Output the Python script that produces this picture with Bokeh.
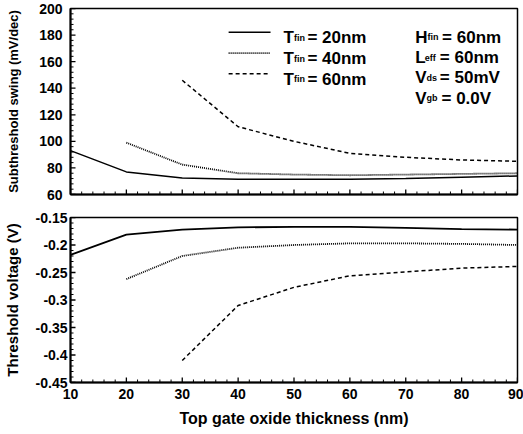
from bokeh.plotting import figure
from bokeh.layouts import column
from bokeh.models import FixedTicker, Range1d
from bokeh.core.properties import value
from bokeh.embed import file_html
from bokeh.resources import INLINE

# ---- data ----
tox = [10, 20, 30, 40, 50, 60, 70, 80, 90]
tox_40 = [20, 30, 40, 50, 60, 70, 80, 90]
tox_60 = [30, 40, 50, 60, 70, 80, 90]

ss_t20 = [93, 77, 72.5, 71.5, 71.5, 71.5, 72, 73, 74]
ss_t40 = [99, 82.5, 76, 75, 74.5, 75, 75.5, 76]
ss_t60 = [146, 111, 100, 91, 88, 86, 85]

vt_t20 = [-0.218, -0.181, -0.172, -0.168, -0.167, -0.167, -0.169, -0.171, -0.172]
vt_t40 = [-0.262, -0.220, -0.205, -0.200, -0.197, -0.197, -0.198, -0.200]
vt_t60 = [-0.410, -0.310, -0.277, -0.256, -0.249, -0.242, -0.239]

x_ticks = [10, 20, 30, 40, 50, 60, 70, 80, 90]
ss_ticks = [60, 80, 100, 120, 140, 160, 180, 200]
vt_ticks = [-0.45, -0.4, -0.35, -0.3, -0.25, -0.2, -0.15]
vt_tick_labels = ["-0.45", "-0.4", "-0.35", "-0.3", "-0.25", "-0.2", "-0.15"]

legend_names = ["20nm", "40nm", "60nm"]
param_main = ["H", "L", "V", "V"]
param_sub = ["fin", "eff", "ds", "gb"]
param_val = ["= 60nm", "= 60nm", "= 50mV", "= 0.0V"]

FONT = value("Liberation Sans")
DASHES = ["solid", "1 1", "4 3"]

FIG_W = 523
BL, BR = 70, 6
FRAME_W = FIG_W - BL - BR


def style(p, ylab, lab_standoff, title_standoff, title_size):
    p.outline_line_color = "black"
    p.outline_line_width = 1.5
    p.grid.visible = False
    p.background_fill_color = "white"
    p.border_fill_color = "white"
    for ax in (p.xaxis[0], p.yaxis[0]):
        ax.axis_line_width = 2
        ax.major_tick_in = 0
        ax.major_tick_out = 0
        ax.minor_tick_in = 0
        ax.minor_tick_out = 0
        ax.major_label_text_font = "Liberation Sans"
        ax.major_label_text_font_style = "bold"
        ax.major_label_text_font_size = "14px"
        ax.major_label_text_color = "black"
        ax.axis_label_text_font = "Liberation Sans"
        ax.axis_label_text_font_style = "bold"
        ax.axis_label_text_color = "black"
    p.xaxis.ticker = FixedTicker(ticks=x_ticks)
    p.yaxis.axis_label = ylab
    p.yaxis.axis_label_text_font_size = title_size
    p.yaxis.major_label_standoff = lab_standoff
    p.yaxis.axis_label_standoff = title_standoff


def inward_ticks(p, yticks, ymin, ymax, frame_h, yminor_step):
    # tick marks drawn inside the frame, lengths converted from pixels
    xpx = 80.0 / FRAME_W
    ypx = (ymax - ymin) / frame_h
    xmaj = list(x_ticks)
    xmin_ = [v for v in range(10, 91, 2) if v not in xmaj]
    p.segment(x0=xmaj, y0=[ymin] * len(xmaj), x1=xmaj, y1=[ymin + 5 * ypx] * len(xmaj),
              line_color="black", line_width=1.3)
    p.segment(x0=xmin_, y0=[ymin] * len(xmin_), x1=xmin_, y1=[ymin + 3 * ypx] * len(xmin_),
              line_color="black", line_width=1)
    n = int(round((ymax - ymin) / yminor_step))
    ymin_list = [ymin + k * yminor_step for k in range(n + 1)]
    ymin_list = [v for v in ymin_list if all(abs(v - t) > 1e-9 for t in yticks)]
    p.segment(x0=[10] * len(yticks), y0=yticks, x1=[10 + 5 * xpx] * len(yticks), y1=yticks,
              line_color="black", line_width=1.3)
    p.segment(x0=[10] * len(ymin_list), y0=ymin_list, x1=[10 + 3 * xpx] * len(ymin_list),
              y1=ymin_list, line_color="black", line_width=1)


# ---- top panel ----
TOP_FH = 186
top = figure(width=FIG_W, height=8 + TOP_FH + 11, output_backend="svg", toolbar_location=None,
             x_range=Range1d(10, 90), y_range=Range1d(60, 200),
             min_border_left=BL, min_border_right=BR, min_border_top=8, min_border_bottom=11)
style(top, "Subthreshold swing (mV/dec)", 8, 15, "13px")
top.yaxis.ticker = FixedTicker(ticks=ss_ticks)
top.xaxis.major_label_overrides = {t: "" for t in x_ticks}
top.xaxis.major_label_standoff = 0
top.xaxis.major_label_text_font_size = "1px"
inward_ticks(top, ss_ticks, 60, 200, TOP_FH, 4)

top.line(tox, ss_t20, line_color="black", line_width=1.5, line_dash=DASHES[0])
top.line(tox_40, ss_t40, line_color="black", line_width=1.8, line_dash=DASHES[1])
top.line(tox_60, ss_t60, line_color="black", line_width=1.5, line_dash=DASHES[2])

# legend (manual, for subscripts)
leg_line_y = [182.2, 166.4, 150.9]
leg_text_y = [177.8, 162.0, 146.6]
for i in range(3):
    top.line([38.3, 45.8], [leg_line_y[i]] * 2, line_color="black",
             line_width=1.8 if i == 1 else 1.5, line_dash=DASHES[i])
top.text(x=[48.1] * 3, y=leg_text_y, text=["T"] * 3, text_font=FONT,
         text_font_style="bold", text_font_size="17px", text_baseline="alphabetic")
top.text(x=[50.0] * 3, y=leg_text_y, text=["fin"] * 3, text_font=FONT,
         text_font_style="bold", text_font_size="9px", text_baseline="alphabetic")
top.text(x=[52.4] * 3, y=leg_text_y, text=["= " + n for n in legend_names], text_font=FONT,
         text_font_style="bold", text_font_size="17px", text_baseline="alphabetic")

par_y = [178.2, 162.8, 147.7, 132.3]
top.text(x=[71.7] * 4, y=par_y, text=param_main, text_font=FONT,
         text_font_style="bold", text_font_size="17px", text_baseline="alphabetic")
top.text(x=[73.9, 73.4, 73.7, 73.7], y=par_y, text=param_sub, text_font=FONT,
         text_font_style="bold", text_font_size="9px", text_baseline="alphabetic")
top.text(x=[76.5, 76.1, 76.1, 76.4], y=par_y, text=param_val, text_font=FONT,
         text_font_style="bold", text_font_size="17px", text_baseline="alphabetic")

# ---- bottom panel ----
BOT_FH = 165
bot = figure(width=FIG_W, height=12 + BOT_FH + 50, output_backend="svg", toolbar_location=None,
             x_range=Range1d(10, 90), y_range=Range1d(-0.45, -0.15),
             min_border_left=BL, min_border_right=BR, min_border_top=12, min_border_bottom=50)
style(bot, "Threshold voltage (V)", 3, 12, "15px")
bot.yaxis.ticker = FixedTicker(ticks=vt_ticks)
bot.yaxis.major_label_overrides = {t: l for t, l in zip(vt_ticks, vt_tick_labels)}
bot.xaxis.axis_label = "Top gate oxide thickness (nm)"
bot.xaxis.axis_label_text_font_size = "16px"
bot.xaxis.major_label_standoff = 6
bot.xaxis.axis_label_standoff = 8
inward_ticks(bot, vt_ticks, -0.45, -0.15, BOT_FH, 0.01)

bot.line(tox, vt_t20, line_color="black", line_width=1.8, line_dash=DASHES[0])
bot.line(tox_40, vt_t40, line_color="black", line_width=1.8, line_dash=DASHES[1])
bot.line(tox_60, vt_t60, line_color="black", line_width=1.5, line_dash=DASHES[2])

layout = column(top, bot, spacing=0)
open("out.html", "w").write(file_html(layout, INLINE))
